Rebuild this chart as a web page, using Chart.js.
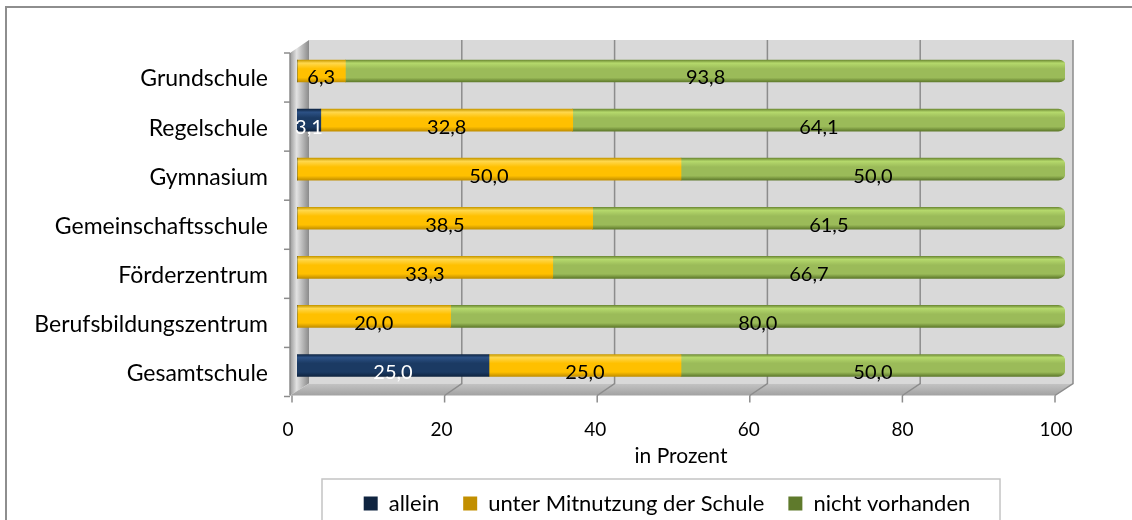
<!DOCTYPE html>
<html lang="de">
<head>
<meta charset="utf-8">
<title>Schulsozialarbeit Räume</title>
<script src="https://cdn.jsdelivr.net/npm/chart.js@4.4.1/dist/chart.umd.min.js"></script>
<style>
  html, body { margin: 0; background: #fff; overflow: hidden; }
  #frame { position: absolute; left: 5px; top: 6px; width: 1200px; height: 600px; border: 2px solid #8e8e8e; }
  #wrap { position: absolute; left: 0; top: 0; width: 1132px; height: 520px; }
</style>
</head>
<body>
<div id="frame"></div>
<div id="wrap"><canvas id="chart"></canvas></div>
<script>
const schulen = ['Grundschule', 'Regelschule', 'Gymnasium', 'Gemeinschaftsschule', 'Förderzentrum', 'Berufsbildungszentrum', 'Gesamtschule'];
const allein = [0, 3.1, 0, 0, 0, 0, 25.0];
const mitnutzung = [6.3, 32.8, 50.0, 38.5, 33.3, 20.0, 25.0];
const nichtVorhanden = [93.8, 64.1, 50.0, 61.5, 66.7, 80.0, 50.0];
const xTicks = [0, 20, 40, 60, 80, 100];

const FONT = 'Lato';
const LEGEND_MID = 667;

// vertical shading so the bars look like tubes
function barFill(edge, light, base, dark) {
  return (ctx) => {
    const chart = ctx.chart;
    const y = chart.scales && chart.scales.y;
    if (!chart.chartArea || !y || ctx.dataIndex === undefined) return base;
    const cy = y.getPixelForValue(ctx.dataIndex);
    const g = chart.ctx.createLinearGradient(0, cy - 11, 0, cy + 11);
    g.addColorStop(0, edge);
    g.addColorStop(0.14, light);
    g.addColorStop(0.4, base);
    g.addColorStop(0.8, base);
    g.addColorStop(1, dark);
    return g;
  };
}

// back wall, side wall, floor and grid of the 3d box
const walls = {
  id: 'walls',
  beforeDatasetsDraw(chart) {
    const { ctx, chartArea: a, scales: { x } } = chart;
    const BL = a.left + 12, BR = a.right + 8, top = a.top - 6.5, bottom = a.bottom - 6.5;
    const FL = a.left - 7, FR = a.right - 10, FT = a.top + 6.5, FB = a.bottom + 5.5;
    const frac = v => (v - x.min) / (x.max - x.min);
    const backX = v => BL + frac(v) * (BR - BL);
    const frontX = v => FL + 2 + frac(v) * (FR - FL - 2);
    ctx.save();

    ctx.fillStyle = '#d9d9d9';
    ctx.fillRect(BL, top, BR - BL, bottom - top);

    const side = ctx.createLinearGradient(FL, 0, BL, 0);
    side.addColorStop(0, '#9a9a9a');
    side.addColorStop(0.35, '#e2e2e2');
    side.addColorStop(1, '#8a8a8a');
    ctx.fillStyle = side;
    ctx.beginPath();
    ctx.moveTo(FL, FT); ctx.lineTo(BL, top); ctx.lineTo(BL, bottom); ctx.lineTo(FL, FB);
    ctx.closePath(); ctx.fill();

    const floor = ctx.createLinearGradient(0, bottom, 0, FB);
    floor.addColorStop(0, '#c4c4c4');
    floor.addColorStop(1, '#a2a2a2');
    ctx.fillStyle = floor;
    ctx.beginPath();
    ctx.moveTo(FL, FB); ctx.lineTo(BL, bottom); ctx.lineTo(BR, bottom); ctx.lineTo(FR, FB);
    ctx.closePath(); ctx.fill();

    ctx.strokeStyle = '#8c8c8c';
    ctx.lineWidth = 1.5;
    xTicks.forEach(v => {
      ctx.beginPath();
      if (v > 0 && v < 100) {
        ctx.moveTo(backX(v), top); ctx.lineTo(backX(v), bottom); ctx.lineTo(frontX(v), FB);
      }
      ctx.moveTo(frontX(v), FB); ctx.lineTo(frontX(v), FB + 7);
      ctx.stroke();
    });

    ctx.beginPath();
    ctx.moveTo(BR, top); ctx.lineTo(BR, bottom); ctx.lineTo(FR, FB);
    ctx.moveTo(FL, FT); ctx.lineTo(FL, FB);
    ctx.stroke();

    // ticks on the category axis, between the rows
    const step = (a.bottom - a.top) / schulen.length;
    for (let i = 0; i <= schulen.length; i++) {
      const yy = a.top + i * step + 6.5;
      ctx.beginPath(); ctx.moveTo(FL - 6, yy); ctx.lineTo(FL, yy); ctx.stroke();
    }
    ctx.restore();
  }
};

const valueLabels = {
  id: 'valueLabels',
  afterDatasetsDraw(chart) {
    const c = chart.ctx;
    c.save();
    c.font = '20px ' + FONT;
    c.textAlign = 'center';
    c.textBaseline = 'middle';
    chart.data.datasets.forEach((ds, di) => {
      chart.getDatasetMeta(di).data.forEach((bar, i) => {
        const v = ds.data[i];
        if (!v) return;
        c.fillStyle = ds.labelColor;
        c.fillText(v.toFixed(1).replace('.', ','), (bar.x + bar.base) / 2, bar.y + 7);
      });
    });
    c.restore();
  }
};

// legend sits a little right of the page centre, inside a thin box
const legendBox = {
  id: 'legendBox',
  afterLayout(chart) {
    const lg = chart.legend;
    const shift = LEGEND_MID - (lg.left + lg.right) / 2;
    lg.left += shift;
    lg.right += shift;
  },
  afterDraw(chart) {
    const c = chart.ctx;
    c.save();
    c.strokeStyle = '#c4c4c4';
    c.lineWidth = 1.5;
    c.strokeRect(LEGEND_MID - 345, 479, 678, 60);
    c.restore();
  }
};

new Chart(document.getElementById('chart'), {
  type: 'bar',
  data: {
    labels: schulen,
    datasets: [
      {
        label: 'allein',
        data: allein,
        labelColor: '#ffffff',
        backgroundColor: barFill('#0f2645', '#2c5185', '#1b3a63', '#0f2440'),
        borderWidth: 0
      },
      {
        label: 'unter Mitnutzung der Schule',
        data: mitnutzung,
        labelColor: '#000000',
        backgroundColor: barFill('#c99a00', '#ffd84d', '#ffc000', '#c28f00'),
        borderWidth: 0
      },
      {
        label: 'nicht vorhanden',
        data: nichtVorhanden,
        labelColor: '#000000',
        backgroundColor: barFill('#6f8c35', '#b5d96c', '#9bbb59', '#5f7a2c'),
        borderWidth: 0,
        borderSkipped: false,
        borderRadius: { topLeft: 0, bottomLeft: 0, topRight: 7, bottomRight: 7 }
      }
    ]
  },
  options: {
    indexAxis: 'y',
    responsive: true,
    maintainAspectRatio: false,
    animation: false,
    barThickness: 22,
    layout: { padding: { left: 6, right: 67, top: 46.5, bottom: -4.5 } },
    scales: {
      x: {
        stacked: true,
        min: 0,
        max: 100,
        grid: { display: false },
        border: { display: false },
        afterBuildTicks: s => { s.ticks = xTicks.map(v => ({ value: v })); },
        afterFit: s => { s.height = 78.5; },
        ticks: { color: '#000', font: { family: FONT, size: 19 }, padding: 20, labelOffset: -9 },
        title: {
          display: true,
          text: 'in Prozent',
          color: '#000',
          font: { family: FONT, size: 21 },
          padding: { top: 0, bottom: 0 }
        }
      },
      y: {
        stacked: true,
        grid: { display: false },
        border: { display: false },
        ticks: { color: '#000', font: { family: FONT, size: 23 }, padding: 21, labelOffset: 8 },
        afterFit: s => { s.width = 291; }
      }
    },
    plugins: {
      legend: {
        position: 'bottom',
        labels: {
          color: '#000',
          font: { family: FONT, size: 22 },
          boxWidth: 14,
          boxHeight: 14,
          padding: 24
        }
      },
      tooltip: { enabled: false }
    }
  },
  plugins: [walls, valueLabels, legendBox]
});
</script>
</body>
</html>
